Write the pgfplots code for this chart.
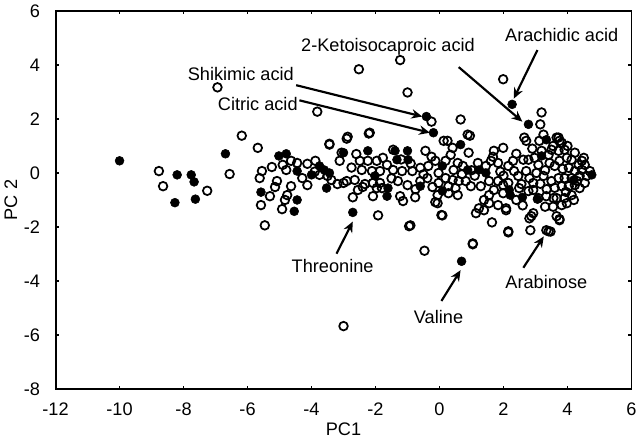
\documentclass[border=0pt]{standalone}
\usepackage{fontspec}
\setmainfont{Liberation Sans}
\usepackage{pgfplots}
\pgfplotsset{compat=1.18}
\usetikzlibrary{arrows.meta}

\begin{document}
\begin{tikzpicture}
\begin{axis}[
  scale only axis, width=428pt, height=281pt,
  xmin=-12, xmax=6, ymin=-8, ymax=6,
  xtick={-12,-10,...,6}, ytick={-8,-6,...,6},
  tick align=inside, xtick pos=both, ytick pos=both,
  major tick length=2.5pt,
  axis line style={line width=1.4pt}, every tick/.style={line width=1pt,black},
  tick label style={font=\fontsize{13.5}{15}\selectfont},
  xticklabel style={yshift=-7pt}, yticklabel style={xshift=-8pt},
  /pgf/number format/assume math mode=true,
  label style={font=\fontsize{13.5}{15}\selectfont},
  xlabel={PC1}, ylabel={PC 2},
  xlabel style={yshift=2pt}, ylabel style={yshift=-2pt},
  clip=false,
]
% open circles
\addplot[only marks, mark=o, mark size=3.2pt, mark options={line width=1.3pt, fill=white, draw=black}] coordinates {
(-6.18,1.38) (-5.68,0.93) (-6.56,-0.04) (-7.26,-0.66) (-8.77,0.07) (-8.64,-0.49) (-6.94,3.17)
(-4.64,0.45) (-4.45,0.37) (-4.13,0.34) (-3.88,0.45) (-3.44,1.08) (-3.12,0.45) (-5.55,0.07)
(-5.62,-0.19) (-5.24,0.22) (-4.79,0.11) (-4.29,-0.19) (-4.13,-0.45) (-5.08,-0.3) (-5.14,-0.52)
(-4.64,-0.49) (-5.3,-0.86) (-4.76,-0.82) (-4.83,-1.0) (-5.58,-1.19) (-4.92,-1.34) (-5.46,-1.94)
(-3.38,-0.26) (-3.19,-0.41) (-3.75,-0.07) (-3.5,-0.11) (-3.82,2.27) (-3.44,1.05) (-2.87,1.34)
(-2.18,1.49) (-2.52,3.84) (-1.23,4.18) (-1.0,2.98) (-3.06,0.75) (-4.9,0.3) (-3.9,0.05)
(-2.21,1.46) (-2.9,1.27) (-2.49,0.45) (-2.24,0.45) (-1.96,0.45) (-1.77,0.56) (-1.64,0.3)
(-2.43,0.11) (-2.11,0.07) (-1.86,0.07) (-1.45,0.11) (-1.17,0.07) (-0.85,0.07) (-0.6,0.19)
(-0.35,0.26) (-0.13,0.45) (-2.9,-0.3) (-2.65,-0.26) (-2.33,-0.41) (-2.08,-0.37) (-3.0,-0.37)
(-2.55,-0.63) (-2.4,-0.52) (-1.96,-0.56) (-1.86,-0.37) (-1.8,-0.56) (-2.71,-0.9) (-2.08,-0.86)
(-1.23,-0.86) (-1.14,-1.04) (-0.76,-0.9) (-0.6,-0.3) (-0.38,-0.19) (-0.22,-0.52) (-0.06,-0.82)
(-0.13,-1.08) (-1.92,-1.57) (-0.91,-1.94) (-0.47,-2.88) (-1.45,0.86) (-0.44,0.82) (-3.0,-5.67)
(-0.95,-1.97) (-2.6,0.7) (-1.2,0.5) (-0.9,0.35) (-1.3,-0.3) (-1.0,-0.45) (-0.75,-0.6)
(-1.5,-0.2) (-2.75,0.2) (-0.25,0.6) (-0.5,-0.05)
(-0.25,1.9) (0.66,1.98) (0.88,1.42) (0.95,1.38) (2.71,1.19) (0.13,1.19) (0.41,0.93) (0.35,0.67)
(0.19,0.45) (0.57,0.37) (0.44,0.11) (0.73,0.26) (0.91,0.75) (1.7,0.82) (1.99,0.93) (1.67,0.6)
(1.83,0.37) (1.2,0.37) (1.45,0.26) (1.61,0.45) (-0.03,0) (0.19,-0.19) (0.41,-0.26) (0.6,-0.3)
(-0.03,-0.37) (0.28,-0.49) (0.5,-0.56) (0.82,-0.3) (-0.06,-1.12) (0.28,-0.75) (0.57,-0.82)
(0.09,-1.57) (0.98,-0.49) (1.29,-0.49) (1.55,-0.3) (1.83,-0.3) (1.99,-0.45) (2.15,-0.37)
(1.7,-0.63) (1.55,-0.82) (1.39,-1.0) (1.23,-1.31) (1.39,-1.38) (1.14,-1.49) (1.55,-1.12)
(1.99,-0.75) (1.83,-1.19) (2.08,-1.31) (2.15,-2.16) (1.04,-2.61) (2.4,0.71) (2.3,0.45)
(2.15,0.26) (2.33,0.07) (2.46,-0.11) (2.62,0.49) (2.78,0.49) (2.71,0.07) (2.81,-0.19)
(2.93,-0.37) (2.93,-0.63) (2.78,-0.67) (2.49,-0.56) (2.56,-0.41) (2.81,-1.68) (2.93,-1.49)
(2.65,1.31) (1.99,3.47) (0.25,1.19) (1.0,0.1) (1.1,-0.1) (0.7,-0.05) (1.9,0.05) (2.0,-0.1)
(0.06,-1.56) (2.08,-1.38) (1.64,-1.83) (2.87,-1.6) (3.75,-1.71) (2.84,-2.12) (3.34,-2.12)
(3.47,-2.17) (2.15,-2.2) (1.04,-2.64)
(3.19,2.24) (3.15,1.8) (3.25,1.42) (3.12,1.19) (3.72,1.31) (3.82,1.12) (3.66,1.31) (3.75,1.19)
(3.5,0.86) (3.19,0.82) (2.97,0.56) (3.09,0.3) (3.41,0.67) (3.44,0.37) (3.72,0.82) (3.91,0.86)
(3.98,0.56) (4.23,0.75) (4.51,0.56) (4.54,0.3) (4.35,0.3) (4.13,0.49) (3.75,0.45) (3.6,0.26)
(4.04,0.19) (4.23,0.07) (4.45,0.11) (4.7,0.07) (4.6,-0.11) (4.38,-0.11) (4.13,-0.19)
(3.91,-0.19) (3.72,-0.19) (3.5,-0.3) (3.25,-0.11) (3.03,0) (4.23,-0.45) (4.04,-0.49)
(3.82,-0.49) (4.13,-0.82) (3.91,-0.93) (3.82,-1.19) (3.98,-1.12) (3.34,-0.86) (3.66,-0.93)
(4.38,-0.56) (4.54,-0.37) (3.09,-0.93) (3.56,-0.93) (3.66,-1.6) (3.75,-1.75) (3.41,-2.16)
(3.3,0.1) (3.6,-0.55) (3.35,-0.6) (3.15,-0.4) (3.85,0.15) (4.3,-0.3) (3.95,-0.7) (4.0,1.0)
(3.55,1.0) (2.9,0.9) (3.3,-1.25) (3.55,-1.25) (2.6,-1.2) (2.4,-1.0) (4.2,-1.0) (4.45,0.45)
};
% filled circles
\addplot[only marks, mark=*, mark size=3.3pt, mark options={fill=black, draw=black}] coordinates {
(-10,0.45) (-8.2,-0.07) (-7.76,-0.07) (-7.67,-0.33) (-8.27,-1.1) (-7.63,-0.97) (-6.69,0.71)
(-5.02,0.63) (-4.79,0.71) (-3.75,0.26) (-3.6,0.11) (-3.44,0.0) (-4.45,0.07) (-4.0,-0.07)
(-5.58,-0.71) (-4.45,-1.0) (-4.54,-1.42) (-3.53,-0.56)
(-3.0,0.75) (-2.24,0.82) (-1.39,0.82) (-1.0,0.82) (-1.33,0.49) (-0.98,0.49) (-2.02,-0.11)
(-1.61,-0.56) (-1.64,-0.86) (-0.6,-0.49) (-2.71,-1.46) (-0.41,2.09) (-0.19,1.49)
(0.66,1.05) (0.88,0.11) (1.23,0.11) (1.45,0.0) (0.09,0.26) (0.09,-0.67) (2.18,-0.63)
(2.21,-0.82) (2.59,-0.9) (0.69,-3.27) (2.27,2.54) (2.78,1.8)
(3.34,1.23) (3.19,0.63) (4.76,-0.07) (4.2,-0.26) (3.06,-0.97)
};
% annotations
\begin{scope}[every node/.style={font=\fontsize{13.5}{15}\selectfont}, line width=1.6pt, -{Stealth[length=8pt,width=7pt]}]
\node at (axis cs:-6.21,3.66) {Shikimic acid};
\draw (axis cs:-4.48,3.25) -- (axis cs:-0.54,2.09);
\node at (axis cs:-5.68,2.57) {Citric acid};
\draw (axis cs:-4.38,2.69) -- (axis cs:-0.30,1.49);
\node at (axis cs:-1.61,4.66) {2-Ketoisocaproic acid};
\draw (axis cs:0.6,3.92) -- (axis cs:2.59,1.90);
\node at (axis cs:3.82,5.11) {Arachidic acid};
\draw (axis cs:3.06,4.55) -- (axis cs:2.32,2.75);
\node at (axis cs:-3.34,-3.43) {Threonine};
\draw (axis cs:-3.22,-2.99) -- (axis cs:-2.71,-1.80);
\node at (axis cs:-0.03,-5.34) {Valine};
\draw (axis cs:0.06,-4.74) -- (axis cs:0.66,-3.6);
\node at (axis cs:3.34,-4.03) {Arabinose};
\draw (axis cs:2.62,-3.51) -- (axis cs:3.26,-2.35);
\end{scope}
\end{axis}
\end{tikzpicture}
\end{document}
